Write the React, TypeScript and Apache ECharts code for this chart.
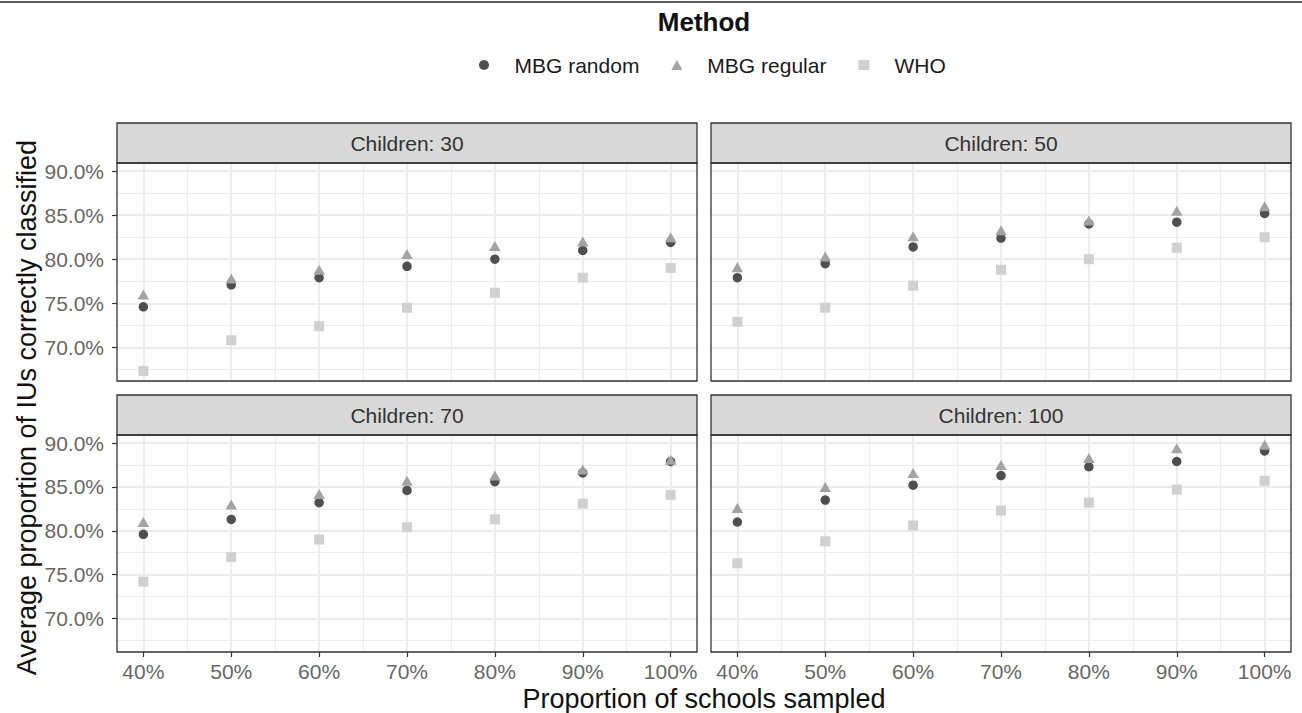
import { useEffect, useRef } from 'react';
import * as echarts from 'echarts';

// ---- data ----
const proportions = [40, 50, 60, 70, 80, 90, 100];
const panelTitles = ['Children: 30', 'Children: 50', 'Children: 70', 'Children: 100'];
const methods = ['MBG random', 'MBG regular', 'WHO'];

const c30Random = [74.6, 77.1, 77.9, 79.2, 80.0, 81.0, 81.9];
const c30Regular = [76.0, 77.8, 78.8, 80.6, 81.5, 82.0, 82.5];
const c30WHO = [67.3, 70.8, 72.4, 74.5, 76.2, 77.9, 79.0];

const c50Random = [77.9, 79.5, 81.4, 82.4, 84.0, 84.2, 85.2];
const c50Regular = [79.1, 80.3, 82.6, 83.3, 84.4, 85.5, 86.0];
const c50WHO = [72.9, 74.5, 77.0, 78.8, 80.0, 81.3, 82.5];

const c70Random = [79.6, 81.3, 83.2, 84.6, 85.6, 86.6, 87.9];
const c70Regular = [81.0, 83.0, 84.2, 85.7, 86.3, 87.0, 88.1];
const c70WHO = [74.2, 77.0, 79.0, 80.4, 81.3, 83.1, 84.1];

const c100Random = [81.0, 83.5, 85.2, 86.3, 87.3, 87.9, 89.1];
const c100Regular = [82.6, 85.0, 86.6, 87.5, 88.3, 89.4, 89.8];
const c100WHO = [76.3, 78.8, 80.6, 82.3, 83.2, 84.7, 85.7];

const panelData = [
  [c30Random, c30Regular, c30WHO],
  [c50Random, c50Regular, c50WHO],
  [c70Random, c70Regular, c70WHO],
  [c100Random, c100Regular, c100WHO],
];

const xTicks = [40, 50, 60, 70, 80, 90, 100];
const xMinorTicks = [45, 55, 65, 75, 85, 95];
const yTicks = [70, 75, 80, 85, 90];
const yMinorTicks = [67.5, 72.5, 77.5, 82.5, 87.5];

// ---- styling / layout ----
const FONT = "'Liberation Sans', Arial, sans-serif";
const X_MIN = 37;
const X_MAX = 103;
const Y_MIN = 66.18;
const Y_MAX = 90.92;
const methodColors = ['#4f4f4f', '#a3a3a3', '#d0d0d0'];
const methodSymbols = ['circle', 'triangle', 'rect'];
const methodSizes: any[] = [9.5, [11.5, 10], 10];

const panelBoxes = [
  { left: 117, top: 163, width: 580, height: 218 },
  { left: 711, top: 163, width: 580, height: 218 },
  { left: 117, top: 435, width: 580, height: 217 },
  { left: 711, top: 435, width: 580, height: 217 },
];
const STRIP_H = 40;

export default function App() {
  const ref = useRef<HTMLDivElement>(null);

  useEffect(() => {
    const chart = echarts.init(ref.current!, null, { renderer: 'svg' });

    const grids = panelBoxes.map((b) => ({
      left: b.left,
      top: b.top,
      width: b.width,
      height: b.height,
      containLabel: false,
      show: true,
      backgroundColor: '#ffffff',
      borderWidth: 0,
    }));

    const xAxes: any[] = [];
    const yAxes: any[] = [];
    panelBoxes.forEach((_, i) => {
      const bottomRow = i >= 2;
      const leftCol = i % 2 === 0;
      xAxes.push({
        gridIndex: i,
        type: 'value',
        min: X_MIN,
        max: X_MAX,
        position: 'bottom',
        axisLine: { show: false },
        axisTick: {
          show: bottomRow,
          customValues: xTicks,
          length: 5,
          lineStyle: { color: '#333333', width: 1.2 },
        },
        axisLabel: {
          show: bottomRow,
          customValues: xTicks,
          formatter: (v: number) => `${v}%`,
          margin: 9,
          fontSize: 21,
          color: '#676767',
          fontFamily: FONT,
        },
        splitLine: { show: true, lineStyle: { color: '#ebebeb', width: 1.8 } },
        z: 1,
      });
      xAxes.push({
        gridIndex: i,
        type: 'value',
        min: X_MIN,
        max: X_MAX,
        position: 'top',
        axisLine: { show: false },
        axisTick: { show: false, customValues: xMinorTicks },
        axisLabel: { show: false, customValues: xMinorTicks },
        splitLine: { show: true, lineStyle: { color: '#ebebeb', width: 0.9 } },
        z: 0,
      });
      yAxes.push({
        gridIndex: i,
        type: 'value',
        min: Y_MIN,
        max: Y_MAX,
        position: 'left',
        axisLine: { show: false },
        axisTick: {
          show: leftCol,
          customValues: yTicks,
          length: 5,
          lineStyle: { color: '#333333', width: 1.2 },
        },
        axisLabel: {
          show: leftCol,
          customValues: yTicks,
          formatter: (v: number) => `${v.toFixed(1)}%`,
          margin: 13,
          fontSize: 21,
          color: '#676767',
          fontFamily: FONT,
        },
        splitLine: { show: true, lineStyle: { color: '#ebebeb', width: 1.8 } },
        z: 1,
      });
      yAxes.push({
        gridIndex: i,
        type: 'value',
        min: Y_MIN,
        max: Y_MAX,
        position: 'right',
        axisLine: { show: false },
        axisTick: { show: false, customValues: yMinorTicks },
        axisLabel: { show: false, customValues: yMinorTicks },
        splitLine: { show: true, lineStyle: { color: '#ebebeb', width: 0.9 } },
        z: 0,
      });
    });

    const series: any[] = [];
    panelData.forEach((panel, p) => {
      panel.forEach((vals, m) => {
        series.push({
          type: 'scatter',
          name: methods[m],
          xAxisIndex: 2 * p,
          yAxisIndex: 2 * p,
          symbol: methodSymbols[m],
          symbolSize: methodSizes[m],
          itemStyle: { color: methodColors[m], opacity: 1 },
          data: proportions.map((x, k) => [x, vals[k]]),
          z: 3 + m,
        });
      });
    });

    const graphics: any[] = [
      {
        type: 'line',
        shape: { x1: 0, y1: 2, x2: 1302, y2: 2 },
        style: { stroke: '#5a5a5a', lineWidth: 2 },
      },
      {
        type: 'text',
        x: 704,
        y: 22,
        style: {
          text: 'Method',
          font: `bold 26px ${FONT}`,
          fill: '#111111',
          textAlign: 'center',
          textVerticalAlign: 'middle',
        },
      },
      {
        type: 'text',
        x: 704,
        y: 699,
        style: {
          text: 'Proportion of schools sampled',
          font: `27px ${FONT}`,
          fill: '#111111',
          textAlign: 'center',
          textVerticalAlign: 'middle',
        },
      },
      {
        type: 'text',
        x: 27,
        y: 407.5,
        rotation: Math.PI / 2,
        style: {
          text: 'Average proportion of IUs correctly classified',
          font: `27px ${FONT}`,
          fill: '#111111',
          textAlign: 'center',
          textVerticalAlign: 'middle',
        },
      },
    ];

    panelBoxes.forEach((b, i) => {
      graphics.push({
        type: 'rect',
        shape: { x: b.left, y: b.top - STRIP_H, width: b.width, height: STRIP_H },
        style: { fill: '#d9d9d9', stroke: '#333333', lineWidth: 1.3 },
        z: 100,
      });
      graphics.push({
        type: 'text',
        x: b.left + b.width / 2,
        y: b.top - STRIP_H / 2,
        style: {
          text: panelTitles[i],
          font: `21px ${FONT}`,
          fill: '#333333',
          textAlign: 'center',
          textVerticalAlign: 'middle',
        },
        z: 101,
      });
      graphics.push({
        type: 'rect',
        shape: { x: b.left, y: b.top, width: b.width, height: b.height },
        style: { fill: 'none', stroke: '#333333', lineWidth: 1.3 },
        z: 100,
      });
    });

    chart.setOption({
      animation: false,
      backgroundColor: '#ffffff',
      textStyle: { fontFamily: FONT },
      legend: {
        data: methods.map((m, i) => ({ name: m, icon: methodSymbols[i] })),
        left: 479,
        top: 53,
        padding: 0,
        itemWidth: 11,
        itemHeight: 10,
        itemGap: 32,
        selectedMode: false,
        textStyle: {
          fontSize: 21,
          color: '#1a1a1a',
          fontFamily: FONT,
          lineHeight: 24,
          padding: [0, 0, 0, 20],
        },
      },
      grid: grids,
      xAxis: xAxes,
      yAxis: yAxes,
      series,
      graphic: graphics,
    });

    return () => chart.dispose();
  }, []);

  return (
    <div
      ref={ref}
      style={{ position: 'absolute', left: 0, top: 0, width: 1302, height: 713 }}
    />
  );
}
